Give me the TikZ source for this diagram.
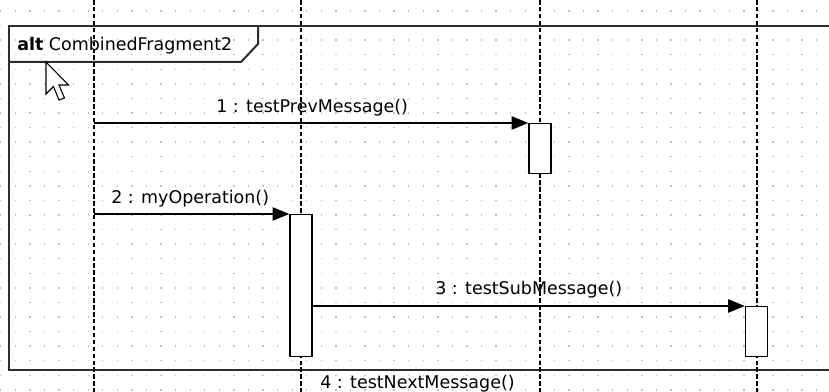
\documentclass[tikz,border=0pt]{standalone}
\usepackage{fontspec}
\setmainfont{DejaVu Sans}
\usetikzlibrary{arrows.meta,positioning}
\definecolor{gridgray}{RGB}{192,192,192}
\definecolor{framegray}{RGB}{45,45,45}

\begin{document}
\begin{tikzpicture}[x=0.75pt,y=-0.75pt,>={Triangle[length=12.5pt,width=10pt]},
  lifeline/.style={line width=1.5pt,dash pattern=on 3.4pt off 1.8pt},
  actbox/.style={draw,fill=white,line width=1.1pt,inner sep=0pt,anchor=north,minimum width=16.5pt},
  msg/.style={->,line width=1.1pt},
  msglabel/.style={inner sep=0pt,anchor=base west,font=\fontsize{13.1pt}{15pt}\selectfont},
  fragment/.style={draw=framegray,line width=1.5pt}]
  \useasboundingbox (0,0) rectangle (829,392);
  \clip (0,0) rectangle (829,392);
  % dotted grid
  \foreach \i in {0,...,56}
    \foreach \j in {0,...,26}
      \fill[gridgray] ({0.8+14.57*\i-0.7},{11+14.57*\j-0.7}) rectangle +(1.4,1.4);
  % combined fragment
  \draw[fragment] (840,26) -- (9,26) -- (9,370) -- (840,370);
  \draw[fragment] (258,26) -- (258,44) -- (241,62) -- (9,62);
  \node[msglabel] (fraglbl) at (17,51) {\textbf{alt} CombinedFragment2};
  % lifelines
  \coordinate (ltop1) at (94,0);   \coordinate (lbot1) at (94,392);
  \coordinate (ltop2) at (301,0);  \coordinate (lbot2) at (301,392);
  \coordinate (ltop3) at (540,0);  \coordinate (lbot3) at (540,392);
  \coordinate (ltop4) at (757,0);  \coordinate (lbot4) at (757,392);
  \foreach \k in {1,...,4}
    \draw[lifeline] (ltop\k) -- (lbot\k);
  % activations
  \node[actbox,minimum height=37.5pt] (act1) at (540,123) {};
  \node[actbox,minimum height=106.5pt] (act2) at (301,214) {};
  \node[actbox,minimum height=37.5pt] (act3) at (756.5,306) {};
  % messages
  \coordinate (src1) at (94,123);
  \coordinate (src2) at (94,214);
  \draw[msg] (src1) -- (act1.north west);
  \draw[msg] (src2) -- (act2.north west);
  \draw[msg] (act2.east |- act3.north) -- (act3.north west);
  \node[msglabel] (lbl1) at (216,113) {1 : testPrevMessage()};
  \node[msglabel] (lbl2) at (111,204) {2 : myOperation()};
  \node[msglabel] (lbl3) at (435,295) {3 : testSubMessage()};
  \node[msglabel] (lbl4) at (320,388) {4 : testNextMessage()};
  % mouse pointer
  \draw[fill=white,line width=0.8pt,line join=miter]
    (46,62) -- (46,94) -- (53.5,86.5) -- (59,100) -- (64.5,98) -- (59,85) -- (68.5,85) -- cycle;
\end{tikzpicture}
\end{document}
